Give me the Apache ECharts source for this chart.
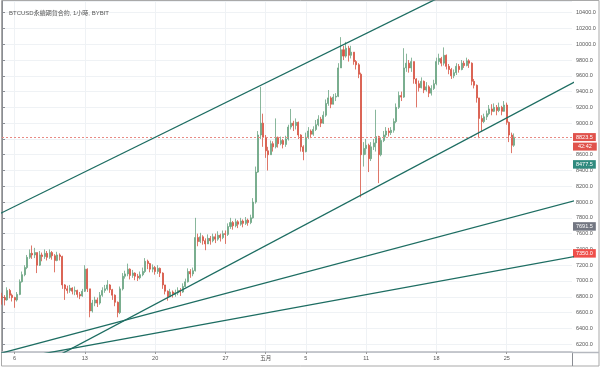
<!DOCTYPE html>
<html><head><meta charset="utf-8">
<script src="https://cdn.jsdelivr.net/npm/echarts@6/dist/echarts.min.js"></script>
<style>html,body{margin:0;padding:0;background:#fff}#c{width:600px;height:367px}</style>
</head><body><div id="c"></div>
<script>
// ---- data ----
const titleText = 'BTCUSD永續期貨合約, 1小時, BYBIT';
const startTimeUTC = Date.UTC(2020, 3, 4, 18);   // first candle, 6h candles
const stepHours = 6;
const totalSlots = 228;                           // includes empty future area
const firstOpen = 6800;
const closes = [6790,
 6760,6880,6820,6790, 6760,6830,6990,7080, 7170,7300,7350,7330, 7360,7200,7330,7310,
 7350,7300,7360,7320, 7260,7330,7310,6950, 6900,6880,6910,6870, 6880,6830,6810,6870,
 7150,6900,6620,6720, 6760,6720,6820,6880, 6900,6950,6890,6820, 6730,6600,6900,7060,
 7090,7150,7070,7100, 7060,7040,7080,7120, 7250,7220,7150,7170, 7120,7160,7100,6950,
 6870,6800,6860,6830, 6850,6880,6860,6930, 6990,7120,7090,7130, 7550,7500,7560,7510,
 7470,7540,7510,7560, 7530,7580,7550,7600, 7590,7690,7740,7700, 7750,7720,7760,7730,
 7770,7740,7800,8000, 8380,8850,9000,8820, 8650,8600,8740,8700, 8820,8740,8780,8730,
 8800,8950,9000,8970, 9010,8850,8700,8640, 8820,8900,8860,8920, 8980,9050,9000,9100,
 9250,9320,9240,9330, 9340,9700,9930,9850, 9950,9860,9900,9780, 9740,9620,8600,8680,
 8720,8550,8700,8750, 8830,8600,8780,8850, 8900,8880,8910,9020, 9200,9350,9330,9700,
 9760,9700,9780,9560, 9500,9450,9530,9420, 9460,9380,9440,9500, 9780,9820,9760,9860,
 9720,9680,9600,9640, 9720,9680,9760,9730, 9790,9760,9530,9480, 9320,9060,9020,9080,
 9120,9180,9150,9200, 9160,9200,9150,9230, 9010,8850,8720,8823.5];
const highs = [6850,
 6820,6920,6900,6840, 6800,6860,7020,7120, 7200,7330,7400,7450, 7420,7360,7380,7360,
 7400,7380,7400,7380, 7340,7370,7350,7320, 6960,6940,6950,6920, 6930,6890,6860,6900,
 7200,7160,6900,6760, 6800,6790,6860,6920, 6950,7010,6960,6900, 6830,6740,6930,7100,
 7130,7220,7160,7140, 7110,7090,7120,7170, 7290,7270,7230,7210, 7190,7200,7170,7110,
 6950,6880,6900,6880, 6890,6920,6910,6970, 7030,7160,7150,7170, 7800,7600,7610,7580,
 7540,7590,7570,7600, 7600,7630,7600,7640, 7640,7730,7800,7760, 7790,7770,7800,7780,
 7810,7790,7840,8050, 8450,8900,9460,9120, 8850,8700,8780,8770, 9060,8830,8830,8800,
 8840,8980,9180,9030, 9060,9020,8860,8720, 8880,8950,8920,8960, 9040,9100,9080,9150,
 9300,9420,9340,9370, 9380,9760,10090,9980, 10030,9980,9980,9900, 9800,9760,9640,8760,
 8800,8740,8760,8800, 9170,8840,8820,8900, 8950,8940,8950,9060, 9250,9400,9400,9950,
 9880,9800,9830,9780, 9570,9540,9580,9540, 9520,9480,9480,9550, 9830,9880,9840,9960,
 9870,9750,9700,9680, 9760,9750,9800,9790, 9830,9810,9770,9560, 9490,9320,9100,9120,
 9160,9230,9240,9250, 9230,9260,9220,9280, 9260,9020,8880,8870];
const lows = [6700,
 6690,6750,6780,6740, 6660,6740,6820,6980, 7060,7150,7280,7280, 7290,7100,7190,7250,
 7280,7260,7280,7270, 7110,7250,7260,6900, 6760,6840,6850,6830, 6820,6790,6770,6800,
 6860,6860,6540,6600, 6680,6670,6700,6800, 6850,6880,6850,6760, 6680,6540,6580,6880,
 7030,7060,7020,7040, 7010,7000,7020,7060, 7100,7150,7110,7110, 7080,7090,7050,6900,
 6830,6750,6800,6790, 6800,6820,6810,6850, 6920,6980,7040,7060, 7120,7440,7480,7460,
 7390,7470,7460,7490, 7480,7510,7500,7530, 7470,7570,7660,7650, 7680,7670,7700,7680,
 7710,7700,7720,7790, 7980,8370,8800,8700, 8560,8400,8600,8640, 8680,8690,8720,8680,
 8700,8780,8920,8900, 8920,8800,8640,8530, 8630,8800,8810,8840, 8900,8960,8950,8990,
 9080,9220,9190,9250, 9280,9330,9700,9800, 9830,9780,9820,9740, 9680,9570,8060,8450,
 8600,8380,8520,8660, 8640,8240,8580,8760, 8820,8830,8850,8880, 9000,9180,9280,9320,
 9650,9640,9650,9500, 9200,9400,9440,9380, 9400,9330,9350,9420, 9480,9740,9720,9730,
 9680,9620,9560,9570, 9610,9640,9670,9700, 9720,9700,9480,9440, 9260,8810,8900,9000,
 9040,9100,9100,9140, 9100,9140,9100,9160, 8980,8760,8620,8700];
const tickDates = ['04-06','04-13','04-20','04-27','05-01','05-05','05-11','05-18','05-25'];
const tickLabels = ['6','13','20','27','五月','5','11','18','25'];
// trend lines: [slotIndex, price] end points
const trendLines = [
  [[-2, 7835], [180, 10684]],
  [[20, 6014], [230, 9555]],
  [[-5, 6046], [230, 8034]],
  [[0, 5983], [230, 7322]]
];
const lastPrice = 8823.5;
const countdownText = '42:42';
const otherPriceMarks = [8477.5, 7691.5, 7350.0];

// ---- build ----
const pad = n => String(n).padStart(2, '0');
const categories = [];
for (let i = 0; i < totalSlots; i++) {
  const d = new Date(startTimeUTC + i * stepHours * 3600e3);
  categories.push(pad(d.getUTCMonth() + 1) + '-' + pad(d.getUTCDate()) + ' ' + pad(d.getUTCHours()));
}
const tickIndex = {};
tickDates.forEach((t, k) => { tickIndex[categories.indexOf(t + ' 00')] = tickLabels[k]; });
const isTick = (idx) => tickIndex[idx] !== undefined;

const candles = closes.map((c, i) => {
  const o = i === 0 ? firstOpen : closes[i - 1];
  return [o, c, lows[i], highs[i]];
});

const FONT = "'Liberation Sans','Noto Sans CJK TC',sans-serif";
const markColors = ['#2f8a7e', '#737782', '#ef4f4a'];

const chart = echarts.init(document.getElementById('c'), null, {renderer: 'canvas'});
chart.setOption({
  animation: false,
  backgroundColor: '#fff',
  textStyle: {fontFamily: FONT},
  title: {text: titleText, left: 4, top: 5,
    textStyle: {fontSize: 6, fontWeight: 'normal', color: '#555', fontFamily: FONT}},
  grid: {left: 2, right: 28, top: 1, bottom: 15},
  xAxis: [{
    type: 'category', data: categories, boundaryGap: false,
    axisLine: {lineStyle: {color: '#b5b8bf', width: 1.5}},
    axisTick: {show: true, interval: isTick, length: 2, lineStyle: {color: '#999'}},
    axisLabel: {interval: isTick, formatter: (v, idx) => tickIndex[idx] || '',
      fontSize: 5.5, color: '#555', margin: 4, fontFamily: FONT},
    splitLine: {show: true, interval: isTick, lineStyle: {color: '#eff2f5', width: 1}}
  }, {
    type: 'value', min: 0, max: totalSlots - 1, show: false
  }],
  yAxis: {
    type: 'value', position: 'right', min: 6100, max: 10548, splitNumber: 22, scale: true,
    axisLine: {show: true, lineStyle: {color: '#8a8d93'}},
    axisTick: {show: true, length: 3, lineStyle: {color: '#8a8d93'}},
    axisLabel: {fontSize: 5.5, color: '#555', margin: 4, showMinLabel: false, showMaxLabel: false,
      formatter: v => v.toFixed(1), fontFamily: FONT},
    splitLine: {show: true, lineStyle: {color: '#eff2f5'}}
  },
  series: [{
    type: 'candlestick', data: candles, xAxisIndex: 0, barWidth: '60%',
    itemStyle: {color: '#6ba583', color0: '#d75442', borderColor: '#6ba583', borderColor0: '#d75442', borderWidth: 0.8},
    markLine: {
      silent: true, symbol: ['none', 'none'], animation: false,
      data: [
        {yAxis: lastPrice,
         lineStyle: {color: '#e88a84', type: [2, 2], width: 1},
         label: {show: true, position: 'end', distance: 1, fontSize: 5.5, color: '#fff',
           formatter: '{e| }\n{a|' + lastPrice.toFixed(1) + '}\n{b|' + countdownText + '}',
           rich: {
             e: {lineHeight: 9.5, fontSize: 5.5},
             a: {backgroundColor: '#e0524b', color: '#fff', fontSize: 5.5, lineHeight: 9.5, height: 8, padding: [0, 3], fontFamily: FONT},
             b: {backgroundColor: '#e0524b', color: '#fff', fontSize: 5.5, lineHeight: 9.5, height: 8, padding: [0, 5], fontFamily: FONT}
           }}}
      ].concat(otherPriceMarks.map((v, k) => ({
        yAxis: v, lineStyle: {color: 'rgba(0,0,0,0)', width: 0.1},
        label: {show: true, position: 'end', distance: 1, fontSize: 5.5, color: '#fff',
          backgroundColor: markColors[k], padding: [1.5, 3], formatter: v.toFixed(1), fontFamily: FONT}
      })))
    }
  }].concat(trendLines.map(pts => ({
    type: 'line', xAxisIndex: 1, data: pts, showSymbol: false, symbol: 'none', clip: true,
    lineStyle: {color: '#1d6d62', width: 1.3}, silent: true, z: 5
  }))),
  graphic: [
    {type: 'rect', shape: {x: 1.5, y: 0.5, width: 597.5, height: 365.5}, style: {fill: null, stroke: '#a9a9a9', lineWidth: 1}, silent: true},
    {type: 'line', shape: {x1: 572.5, y1: 352, x2: 572.5, y2: 366}, style: {stroke: '#8a8d93', lineWidth: 1}},
    {type: 'line', shape: {x1: 572, y1: 352.5, x2: 599, y2: 352.5}, style: {stroke: '#b5b8bf', lineWidth: 1.5}}
  ]
});
</script></body></html>
